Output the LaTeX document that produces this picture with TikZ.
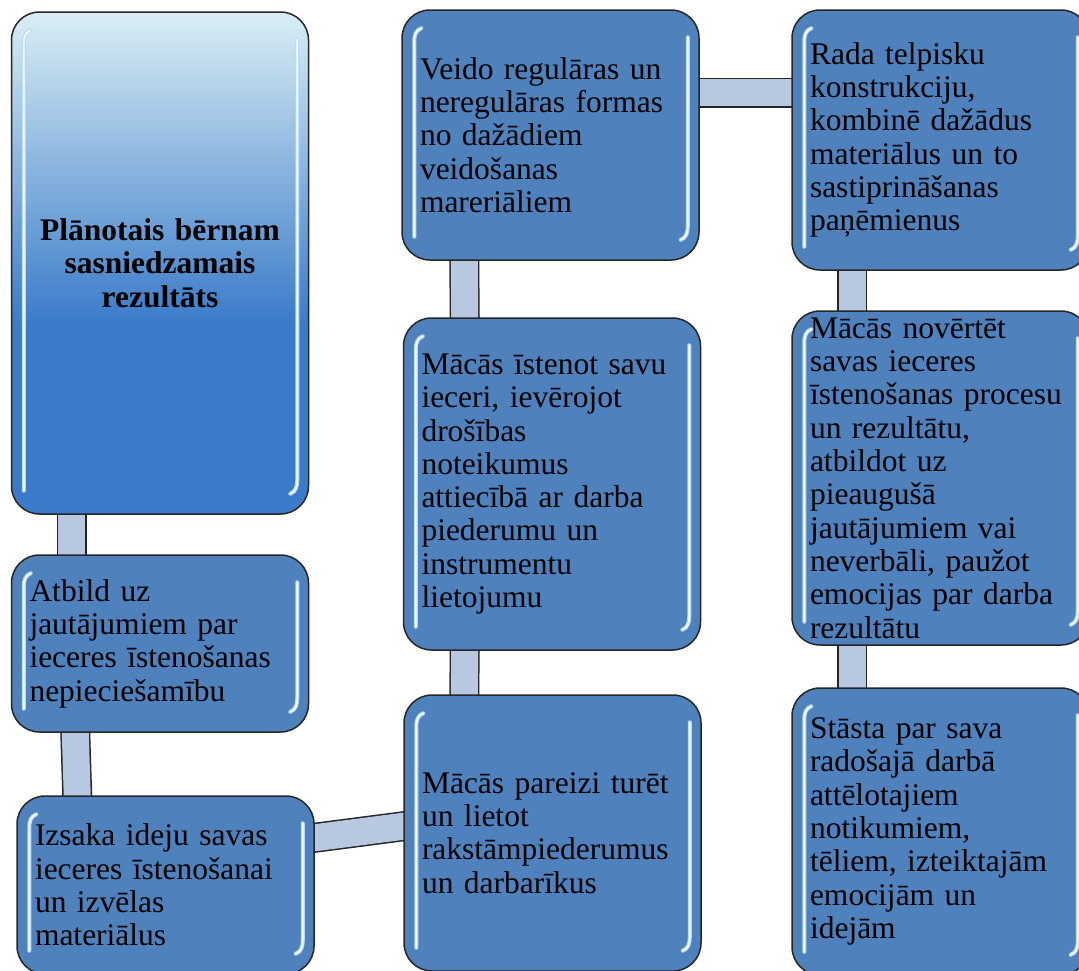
\documentclass[tikz,border=0pt]{standalone}
\usepackage{fontspec}
\setmainfont{Liberation Serif}
\usetikzlibrary{backgrounds}
\definecolor{boxblue}{HTML}{4F81BD}
\definecolor{titletop}{HTML}{DAEEF4}
\definecolor{titlebot}{HTML}{3A7BC9}
\definecolor{linkfill}{HTML}{B9C8E1}
\definecolor{glowblue}{HTML}{B3D9FF}
\pgfdeclareverticalshading{titleshade}{100bp}{color(0bp)=(titlebot); color(44bp)=(titlebot); color(75bp)=(titletop); color(100bp)=(titletop)}
\tikzset{
  stepbox/.style={draw=black!85, line width=1.5pt, rounded corners=28pt, fill=boxblue,
    text width=261pt, inner xsep=18pt, inner ysep=0pt, align=left,
    font=\fontsize{31.5}{33.3}\selectfont},
  titlebox/.style={stepbox, shade, shading=titleshade, align=center,
    font=\fontsize{31.5}{33.3}\selectfont\bfseries},
  link/.style={draw=black!85, line width=1.5pt, double=linkfill, double distance=27pt,
    shorten <=-3pt, shorten >=-3pt},
  glow/.style={glowblue, line width=4pt, line cap=round},
  glowcore/.style={white, line width=1.6pt, line cap=round}
}
% light streaks inside the left and right edges of a box
\newcommand{\gloss}[1]{
  \foreach \g in {glow,glowcore}{
    \draw[\g] ([xshift=20pt,yshift=-19pt]#1.north west) to[out=200,in=90] ([xshift=13pt,yshift=-32pt]#1.north west) -- ([xshift=13pt,yshift=24pt]#1.south west);
    \draw[\g] ([xshift=-12pt,yshift=-28pt]#1.north east) -- ([xshift=-12pt,yshift=34pt]#1.south east) to[out=-90,in=20] ([xshift=-19pt,yshift=21pt]#1.south east);
  }
}

\begin{document}
\begin{tikzpicture}[x=1pt, y=-1pt]
\useasboundingbox (0,0) rectangle (1079,970);
\clip (0,0) rectangle (1079,970);
% left column
\node[titlebox, minimum height=502pt] (title) at (160,263) {Plānotais bērnam\\ sasniedzamais\\ rezultāts};
\node[stepbox, minimum height=177pt] (atbild) at (160,643.5) {Atbild uz\\ jautājumiem par\\ ieceres īstenošanas\\ nepieciešamību};
\node[stepbox, minimum height=178pt] (izsaka) at (165.5,885) {Izsaka ideju savas\\ ieceres īstenošanai\\ un izvēlas\\ materiālus};
% middle column
\node[stepbox, minimum height=250pt] (veido) at (550.5,135) {Veido regulāras un\\ neregulāras formas\\ no dažādiem\\ veidošanas\\ mareriāliem};
\node[stepbox, minimum height=332pt] (istenot) at (552,484) {Mācās īstenot savu\\ ieceri, ievērojot\\ drošības\\ noteikumus\\ attiecībā ar darba\\ piederumu un\\ instrumentu\\ lietojumu};
\node[stepbox, minimum height=276pt] (pareizi) at (552.5,833) {Mācās pareizi turēt\\ un lietot\\ rakstāmpiederumus\\ un darbarīkus};
% right column
\node[stepbox, minimum height=260pt] (rada) at (940.5,140) {Rada telpisku\\ konstrukciju,\\ kombinē dažādus\\ materiālus un to\\ sastiprināšanas\\ paņēmienus};
\node[stepbox, minimum height=334pt] (novertet) at (940.5,478) {Mācās novērtēt\\ savas ieceres\\ īstenošanas procesu\\ un rezultātu,\\ atbildot uz\\ pieaugušā\\ jautājumiem vai\\ neverbāli, paužot\\ emocijas par darba\\ rezultātu};
\node[stepbox, minimum height=287pt] (stasta) at (940.5,831.5) {Stāsta par sava\\ radošajā darbā\\ attēlotajiem\\ notikumiem,\\ tēliem, izteiktajām\\ emocijām un\\ idejām};
% highlights
\foreach \b in {title,atbild,izsaka,veido,istenot,pareizi,rada,novertet,stasta}{
  \gloss{\b}
}
% connecting bars
\begin{scope}[on background layer]
\draw[link] ([xshift=61pt]title.south west) -- ([xshift=61pt]atbild.north west);
\draw[link] ([xshift=64.5pt]atbild.south west) -- ([xshift=61pt]izsaka.north west);
\draw[link] ([yshift=-42.5pt]izsaka.north east) -- ([yshift=-132pt]pareizi.north west);
\draw[link] ([xshift=63pt]veido.south west) -- ([xshift=62pt]istenot.north west);
\draw[link] ([xshift=62pt]istenot.south west) -- ([xshift=61pt]pareizi.north west);
\draw[link] ([yshift=-83.5pt]veido.north east) -- ([yshift=-83.5pt]rada.north west);
\draw[link] ([xshift=61pt]rada.south west) -- ([xshift=61pt]novertet.north west);
\draw[link] ([xshift=61pt]novertet.south west) -- ([xshift=61pt]stasta.north west);
\end{scope}
\end{tikzpicture}
\end{document}
